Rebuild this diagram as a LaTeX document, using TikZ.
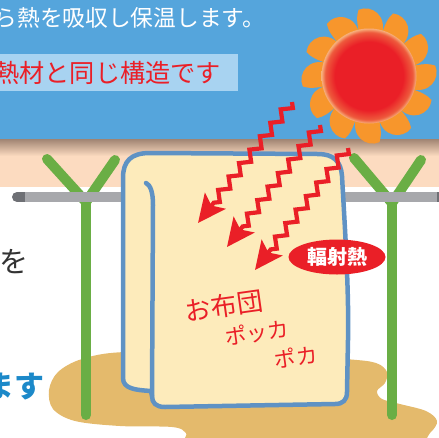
\documentclass[tikz,border=0pt]{standalone}
\usepackage{fontspec}
\newfontfamily\jp{Noto Sans CJK JP}
\usetikzlibrary{arrows.meta,decorations.pathmorphing,shapes.geometric,calc}

\definecolor{skyblue}{HTML}{55A5DC}
\definecolor{capbox}{HTML}{A8D3F1}
\definecolor{peach}{HTML}{FCDBC0}
\definecolor{dusk}{HTML}{A08472}
\definecolor{sand}{HTML}{E4BA6C}
\definecolor{cream}{HTML}{FDEBBB}
\definecolor{clothblue}{HTML}{5F92C4}
\definecolor{leaf}{HTML}{6AAE45}
\definecolor{steel}{HTML}{A7A8AC}
\definecolor{steeldark}{HTML}{6E7075}
\definecolor{heat}{HTML}{EA1F27}
\definecolor{sunorange}{HTML}{F7962C}
\definecolor{sunmid}{HTML}{EE5A3C}
\definecolor{sunedge}{HTML}{F7B17C}
\definecolor{inkgray}{HTML}{333333}
\definecolor{textblue}{HTML}{1C89C9}

% the circle's rim sits at 25bp of the shading
\pgfdeclareradialshading{sunglow}{\pgfpoint{0bp}{0bp}}{color(0bp)=(heat); color(18bp)=(heat); color(23bp)=(sunmid); color(25bp)=(sunedge); color(50bp)=(sunedge)}

\tikzset{
  pole/.style={draw=leaf, line width=10pt, line cap=round, line join=round},
  cloth/.style={draw=clothblue, fill=cream, line width=4.5pt, line join=round},
  clothedge/.style={draw=clothblue, line width=4.5pt, line cap=round},
  heatray/.style={draw=heat, line width=4.2pt, line join=miter, decorate,
    decoration={zigzag, segment length=17pt, amplitude=4.4pt, pre length=0pt, post length=22pt},
    -{Stealth[length=28pt, width=26pt, inset=6pt]}},
  hand/.style={rotate=8, text=heat, inner sep=0pt},
}

\begin{document}
\begin{tikzpicture}[x=1pt,y=-1pt]
\useasboundingbox (0,0) rectangle (439,437);

% sky, wall band and floor
\fill[skyblue] (0,0) rectangle (439,139);
\shade[top color=dusk, bottom color=peach] (0,139) rectangle (439,156);
\fill[peach] (0,155.5) rectangle (439,187);
\fill[capbox] (0,54) rectangle (238,91);

% text lines
\node[anchor=west, inner sep=0pt, text=white, font=\jp\fontsize{22.7}{27}\selectfont] (lead) at (-5.5,17.5) {ら熱を吸収し保温します。};
\node[anchor=west, inner sep=0pt, text=heat, font=\jp\fontsize{25.2}{30}\selectfont] (note) at (-6,72.5) {熱材と同じ構造です};
\node[anchor=east, inner sep=0pt, text=inkgray, font=\jp\fontsize{29}{34}\selectfont] (wo) at (28.5,262) {を};
\node[anchor=east, inner sep=0pt, text=textblue, font=\jp\bfseries\fontsize{30}{36}\selectfont] (masu) at (45,387) {ます};

% sun: curved blades behind a glowing disc
\begin{scope}[shift={(369,76)}, yscale=-1]
  \foreach \a in {6,36,...,336} {
    \fill[sunorange] (\a+7:42) .. controls (\a+7:54) and (\a+6:61) .. (\a+3:67)
      .. controls (\a-8:72) and (\a-24:63) .. (\a-23:42) -- cycle;
  }
  \shade[shading=sunglow] (0,0) circle (47.5);
\end{scope}

% sand puddle
\fill[sand] plot[smooth cycle, tension=0.55] coordinates {
  (192,448) (186,433) (172,427) (120,426) (75,421) (53,409) (49,390) (58,372)
  (82,359) (125,352) (240,352) (345,359) (376,363) (387,372) (385,383)
  (377,391) (382,399) (400,404) (426,411) (437,421) (430,433) (410,446) (300,450)};

% drying stands
\coordinate (lj) at (86,202);
\coordinate (la) at (47,159);
\coordinate (lb) at (115,160);
\coordinate (lf) at (86,415);
\coordinate (rj) at (392,203);
\coordinate (ra) at (354,158);
\coordinate (rb) at (421,160);
\coordinate (rf) at (392,415);
\draw[pole] (la) -- (lj) -- (lb);
\draw[pole] (lj) -- (lf);
\draw[pole] (ra) -- (rj) -- (rb);
\draw[pole] (rj) -- (rf);

% pipe
\coordinate (pa) at (17,197);
\coordinate (pb) at (25,197);
\coordinate (pc) at (437,197);
\coordinate (pd) at (446,197);
\draw[steeldark, line width=10pt, line cap=round] (pa) -- (pb);
\draw[steel, line width=10pt] (pb) -- (pc);
\draw[steeldark, line width=10pt] (pc) -- (pd);

% futon hanging over the pipe
\path[cloth] (151,391) .. controls (136,390) and (123,389) .. (123,378)
  -- (123,178) .. controls (123,161) and (131,153) .. (150,153)
  -- (318,154) .. controls (333,154) and (341,161) .. (342,176)
  .. controls (345,230) and (349,290) .. (348,340)
  -- (347,392) .. controls (347,400) and (343,404) .. (335,404)
  -- (165,407) .. controls (156,407) and (152,403) .. (152,396) -- cycle;
\draw[clothedge] (146,183) .. controls (150,185) and (153,191) .. (153,205) -- (152,396);

% radiant heat rays
\coordinate (r1s) at (292,102); \coordinate (r1e) at (198,223);
\coordinate (r2s) at (320,125); \coordinate (r2e) at (227,247);
\coordinate (r3s) at (348,148); \coordinate (r3e) at (255,270);
\draw[heatray] (r1s) -- (r1e);
\draw[heatray] (r2s) -- (r2e);
\draw[heatray] (r3s) -- (r3e);

% label
\node[ellipse, fill=heat, text=white, minimum width=97pt, minimum height=35pt, inner sep=0pt,
  font=\jp\bfseries\fontsize{20}{24}\selectfont] (badge) at (337,257) {輻射熱};

% handwritten words
\node[hand, font=\jp\fontsize{26}{30}\selectfont] (futon) at (224,306) {お布団};
\node[hand, font=\jp\fontsize{21.5}{25}\selectfont] (pokka) at (257,333) {ポッカ};
\node[hand, font=\jp\fontsize{21.5}{25}\selectfont] (poka) at (296,357) {ポカ};
\end{tikzpicture}
\end{document}
